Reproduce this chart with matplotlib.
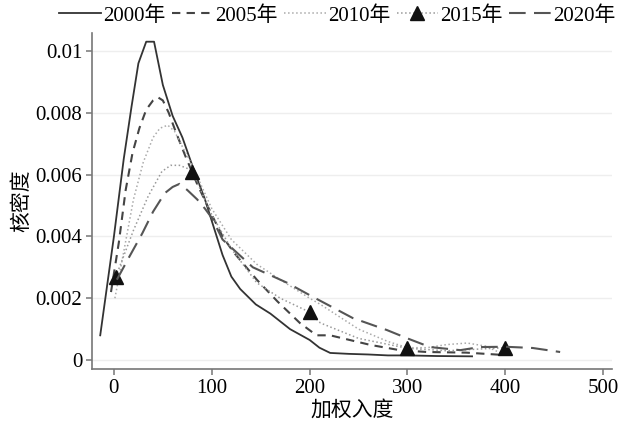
import matplotlib
matplotlib.use("Agg")
import matplotlib.pyplot as plt

plt.rcParams['font.family'] = ['Liberation Serif', 'Noto Sans CJK SC']

# 核密度曲线
x2000 = [-14, 0, 10, 18, 25, 33, 41, 50, 60, 70, 80, 93, 100, 111, 120, 129, 145, 160,
         180, 200, 210, 221, 240, 260, 280, 300, 330, 366]
y2000 = [0.0008, 0.0040, 0.0065, 0.0082, 0.0096, 0.0103, 0.0103, 0.0089, 0.0079, 0.0072,
         0.0063, 0.0052, 0.0045, 0.0034, 0.0027, 0.0023, 0.0018, 0.0015, 0.0010, 0.00065,
         0.0004, 0.00023, 0.0002, 0.00018, 0.00015, 0.00015, 0.00013, 0.00012]

x2005 = [-3, 5, 12, 19, 26, 33, 40, 45, 50, 56, 63, 73, 85, 100, 111, 122, 146, 167, 190,
         207, 221, 262, 292, 320, 360, 395]
y2005 = [0.0022, 0.0038, 0.0055, 0.0067, 0.0075, 0.0081, 0.0084, 0.0085, 0.0084, 0.0080,
         0.0074, 0.0066, 0.0057, 0.0047, 0.0040, 0.0035, 0.0026, 0.0019, 0.0012, 0.0008,
         0.0008, 0.00049, 0.00032, 0.00026, 0.00024, 0.00017]

x2010 = [1, 10, 20, 30, 40, 47, 55, 62, 70, 80, 100, 120, 146, 170, 200, 211, 250, 280,
         300, 320, 340, 361, 380, 395]
y2010 = [0.0020, 0.0035, 0.0052, 0.0064, 0.0072, 0.0075, 0.0076, 0.0074, 0.0069, 0.0063,
         0.0049, 0.0039, 0.0031, 0.0026, 0.0020, 0.0018, 0.0010, 0.0006, 0.0004, 0.0004,
         0.0005, 0.00055, 0.00045, 0.00023]

x2015 = [2, 20, 35, 49, 58, 67, 75, 80, 100, 120, 146, 170, 200, 211, 250, 300, 340, 370,
         400]
y2015 = [0.0027, 0.0042, 0.0053, 0.0061, 0.0063, 0.0063, 0.0062, 0.0061, 0.0047, 0.0036,
         0.0025, 0.0020, 0.00155, 0.0012, 0.0007, 0.00038, 0.0003, 0.00035, 0.0004]
marcas2015 = [0, 7, 12, 15, 18]

x2020 = [3, 15, 29, 40, 52, 60, 67, 75, 85, 93, 100, 111, 142, 177, 200, 244, 279, 300,
         323, 354, 374, 400, 428, 456]
y2020 = [0.0026, 0.0033, 0.0041, 0.0048, 0.0054, 0.0056, 0.0057, 0.0055, 0.0052, 0.0049,
         0.0046, 0.0039, 0.0030, 0.0025, 0.0021, 0.00136, 0.00097, 0.0007, 0.00042,
         0.00032, 0.00042, 0.00043, 0.00039, 0.00026]

xticks = [0, 100, 200, 300, 400, 500]
yticks = [0, 0.002, 0.004, 0.006, 0.008, 0.01]
yticklabels = ['0', '0.002', '0.004', '0.006', '0.008', '0.01']

fig = plt.figure(figsize=(6.21, 4.21), dpi=100)
ax = fig.add_axes([0.148, 0.1235, 0.8375, 0.798])

ax.plot(x2000, y2000, '-', color='#333333', lw=1.3, label='2000年')
ax.plot(x2005, y2005, color='#444444', lw=1.5, dashes=(4, 3), label='2005年')
ax.plot(x2010, y2010, ':', color='#aaaaaa', lw=1.1, label='2010年')
ax.plot(x2015, y2015, ':', color='#999999', lw=1.1, marker='^', markersize=10,
        markerfacecolor='#111111', markeredgecolor='#111111', markevery=marcas2015,
        label='2015年')
ax.plot(x2020, y2020, color='#555555', lw=1.5, dashes=(8, 4), label='2020年')

ax.set_xlim(-22.5, 509)
ax.set_ylim(-0.00029, 0.01058)
ax.set_xticks(xticks)
ax.set_yticks(yticks)
ax.set_yticklabels(yticklabels)
ax.tick_params(labelsize=15, color='#777777', length=4, width=1.1, pad=3)
ax.yaxis.grid(True, color='#eeeeee', lw=1)
ax.set_axisbelow(True)
for s in ['top', 'right']:
    ax.spines[s].set_visible(False)
for s in ['left', 'bottom']:
    ax.spines[s].set_color('#777777')
    ax.spines[s].set_linewidth(1.2)

ax.set_xlabel('加权入度', fontsize=15, labelpad=2)
ax.set_ylabel('核密度', fontsize=15, labelpad=2)

fig.legend(loc='upper center', bbox_to_anchor=(0.543, 1.02), ncol=5, frameon=False,
           fontsize=15, handlelength=2.0, handletextpad=0.1, columnspacing=0.3,
           borderpad=0.2)

fig.savefig('out.png', dpi=100)
